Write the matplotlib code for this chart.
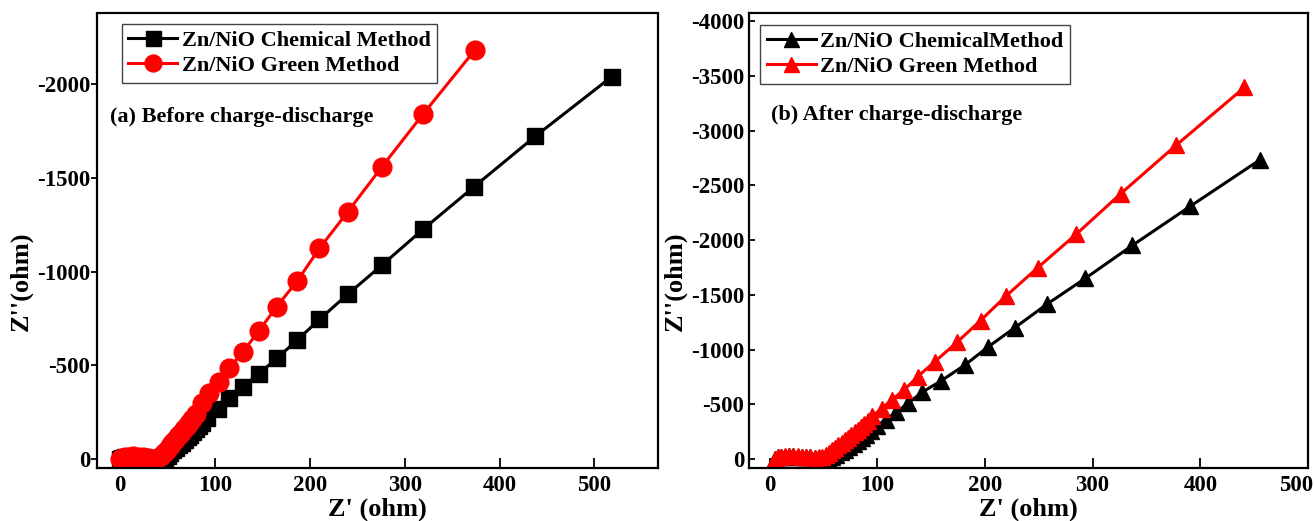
import matplotlib
matplotlib.use("Agg")
import matplotlib.pyplot as plt
import matplotlib.transforms as mtransforms

# ---------------- data ----------------
# (a) Before charge-discharge
a_chem_x = [0, 2, 5, 9, 14, 19, 24, 29, 33, 37, 41, 44, 47, 50, 53, 56, 59, 62, 65, 68,
            71, 74, 77, 80, 83, 86, 91.5, 102.6, 114.8, 129.5, 146, 165, 186.7, 210,
            240, 276, 319.3, 373, 437.7, 518]
a_chem_y = [0, -6, -10, -12, -13, -12, -9, -5, -1, 2, 3, 0, -6, -18, -32, -46, -60, -74,
            -88, -102, -116, -130, -145, -160, -175, -190, -217, -265, -324, -386, -454,
            -537, -635, -745, -880, -1035, -1226, -1453, -1723, -2040]
a_green_x = [0, 2, 5, 9, 14, 19, 24, 29, 33, 37, 40, 43, 46, 49, 52, 55, 58, 61, 64, 67,
             70, 73, 76, 79.5, 86.2, 93.8, 104, 114.8, 129.5, 146, 165, 186.7, 210, 240,
             276, 319.3, 373.8]
a_green_y = [0, -7, -11, -13, -14, -13, -10, -6, -2, 0, -4, -16, -32, -50, -68, -86, -104,
             -122, -140, -158, -176, -194, -213, -240, -297, -351, -413, -484, -573, -683,
             -813, -951, -1124, -1320, -1560, -1841, -2182]

# (b) After charge-discharge
b_chem_x = [5, 8, 11, 14, 18, 22, 26, 30, 34, 38, 42, 46, 50, 54, 58, 62, 66, 70, 74, 78,
            82, 86, 90, 94, 99.3, 107.8, 117.8, 129, 141.4, 159.2, 181.3, 202.9, 227.6,
            257.8, 293.3, 337, 390.8, 455.6]
b_chem_y = [0, -14, -20, -23, -24, -24, -23, -21, -18, -14, -10, -6, -4, -8, -20, -40, -62,
            -86, -112, -138, -166, -194, -222, -258, -301, -361, -428, -512, -608, -714,
            -858, -1024, -1199, -1416, -1651, -1952, -2310, -2735]
b_green_x = [5, 8, 11, 14, 18, 22, 26, 30, 34, 38, 42, 46, 49, 52, 55, 58, 61, 64, 67, 70,
             73, 76, 79, 82, 85, 88, 91, 95.5, 104, 113.6, 125.2, 137.5, 153.4, 174.3,
             195.9, 219.1, 248.9, 284.8, 326.2, 377.6, 441]
b_green_y = [0, -15, -22, -25, -26, -26, -25, -23, -20, -16, -13, -14, -22, -36, -56, -78,
             -100, -124, -148, -172, -196, -220, -244, -268, -292, -318, -345, -392, -461,
             -542, -633, -753, -889, -1069, -1265, -1485, -1747, -2054, -2425, -2867, -3395]

x_ticks = [0, 100, 200, 300, 400, 500]
a_y_ticks = [0, -500, -1000, -1500, -2000]
b_y_ticks = [0, -500, -1000, -1500, -2000, -2500, -3000, -3500, -4000]

a_labels = ["Zn/NiO Chemical Method", "Zn/NiO Green Method"]
b_labels = ["Zn/NiO ChemicalMethod", "Zn/NiO Green Method"]
a_title = "(a) Before charge-discharge"
b_title = "(b) After charge-discharge"
x_label = "Z' (ohm)"
y_label = "Z''(ohm)"

# ---------------- style ----------------
plt.rcParams['font.family'] = ['Liberation Serif', 'DejaVu Serif']
plt.rcParams['font.weight'] = 'bold'
plt.rcParams['axes.unicode_minus'] = False

W, H = 1314, 521
fig = plt.figure(figsize=(W / 100, H / 100), dpi=100)
axA = fig.add_axes([96.5 / W, (H - 468) / H, (658 - 96.5) / W, (468 - 13.5) / H])
axB = fig.add_axes([749 / W, (H - 468) / H, (1308 - 749) / W, (468 - 13.5) / H])

TICK_FS = 16.5
LEG_FS = 16
LAB_FS = 19


def style_axes(ax, yticks, xlim, ylim, ydir, ypad):
    ax.set_xlim(*xlim)
    ax.set_ylim(*ylim)
    ax.set_xticks(x_ticks)
    ax.set_yticks(yticks)
    ax.tick_params(axis='x', direction='in', length=7, width=1.3, labelsize=TICK_FS, pad=5)
    ax.tick_params(axis='y', direction=ydir, length=4, width=1.3, labelsize=TICK_FS, pad=ypad)
    for lab in ax.get_xticklabels() + ax.get_yticklabels():
        lab.set_fontweight('bold')
    for s in ax.spines.values():
        s.set_linewidth(1.6)
    ax.set_xlabel(x_label, fontsize=LAB_FS, fontweight='bold', labelpad=1)
    ax.set_ylabel(y_label, fontsize=LAB_FS, fontweight='bold')


# (a)
axA.plot(a_chem_x, a_chem_y, color='black', marker='s', markersize=12, lw=2.2,
         label=a_labels[0])
axA.plot(a_green_x, a_green_y, color='red', marker='o', markersize=13.5, lw=2.2,
         label=a_labels[1])
style_axes(axA, a_y_ticks, (-25, 567), (48, -2378), 'out', 0.5)
axA.yaxis.set_label_coords(-0.113, 0.41)
legA = axA.legend(loc='upper left', bbox_to_anchor=(0.045, 0.977), borderaxespad=0,
                  fancybox=False, edgecolor='#444444', framealpha=1,
                  prop={'size': LEG_FS, 'weight': 'bold'}, handlelength=2.2,
                  handletextpad=0.2, borderpad=0.3, labelspacing=0.2, markerscale=0.9)
legA.get_frame().set_linewidth(1.0)
axA.text(0.024, 0.773, a_title, transform=axA.transAxes, fontsize=LEG_FS,
         fontweight='bold', va='center', ha='left')

# (b)
axB.plot(b_chem_x, b_chem_y, color='black', marker='^', markersize=12, lw=2.2,
         label=b_labels[0])
axB.plot(b_green_x, b_green_y, color='red', marker='^', markersize=12, lw=2.2,
         label=b_labels[1])
style_axes(axB, b_y_ticks, (-19.1, 500), (82, -4070), 'in', 3.5)
axB.yaxis.set_label_coords(-0.111, 0.41)
legB = axB.legend(loc='upper left', bbox_to_anchor=(0.02, 0.975), borderaxespad=0,
                  fancybox=False, edgecolor='#444444', framealpha=1,
                  prop={'size': LEG_FS, 'weight': 'bold'}, handlelength=2.2,
                  handletextpad=0.2, borderpad=0.3, labelspacing=0.2, markerscale=0.9)
legB.get_frame().set_linewidth(1.0)
axB.text(0.04, 0.777, b_title, transform=axB.transAxes, fontsize=LEG_FS,
         fontweight='bold', va='center', ha='left')

# last x tick label of (b) sits slightly left so it stays inside the figure
fig.canvas.draw()
last = axB.get_xticklabels()[-1]
last.set_transform(last.get_transform() +
                   mtransforms.ScaledTranslation(-12 / 100, 0, fig.dpi_scale_trans))

fig.savefig("out.png", dpi=100)
